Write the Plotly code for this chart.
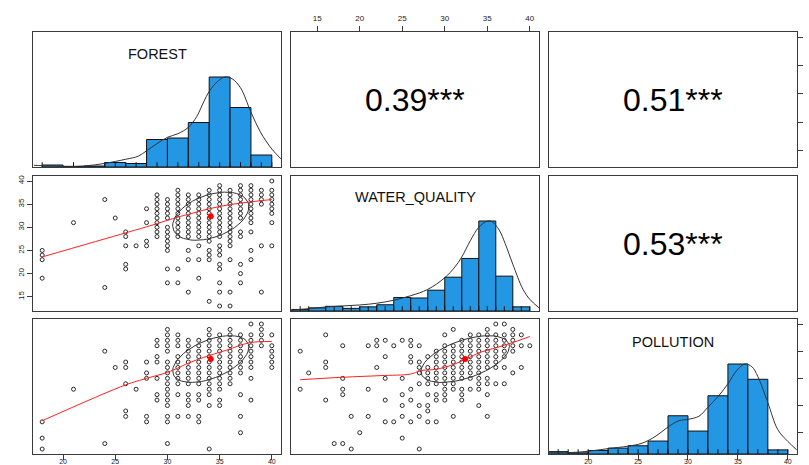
import numpy as np
import plotly.graph_objects as go

# ---------------- data ----------------
var_names = ["FOREST", "WATER_QUALITY", "POLLUTION"]
corr_labels = ["0.39***", "0.51***", "0.53***"]
corr_values = [0.39, 0.51, 0.53]          # forest-wq, forest-pol, wq-pol
tick_vals_forest = [20, 25, 30, 35, 40]
tick_vals_wq = [15, 20, 25, 30, 35, 40]
tick_vals_pol = [20, 25, 30, 35, 40]

forest_lim = [18, 40]
wq_lim = [13, 40]
pol_lim = [17, 40]

# histogram breaks and counts
forest_breaks = [18, 20, 22, 24, 26, 28, 30, 32, 34, 36, 38, 40]
forest_counts = [4, 1, 2, 9, 7, 55, 58, 89, 180, 119, 24]
wq_breaks = [12, 14, 16, 18, 20, 22, 24, 26, 28, 30, 32, 34, 36, 38, 40]
wq_counts = [3, 6, 9, 5, 8, 12, 26, 25, 40, 65, 101, 173, 67, 8]
pol_breaks = [16, 18, 20, 22, 24, 26, 28, 30, 32, 34, 36, 38, 40]
pol_counts = [4, 2, 6, 10, 14, 22, 65, 39, 99, 153, 127, 7]

# density curves (scaled to max 1)
forest_dens_x = [17.2, 18, 20, 22, 24, 26, 27.2, 28, 29, 30, 31, 32, 32.8, 33.5, 34, 34.8, 35.5, 36.2, 37, 38, 38.9, 40, 40.88]
forest_dens_y = [0.019, 0.015, 0.008, 0.011, 0.04, 0.086, 0.12, 0.18, 0.26, 0.33, 0.37, 0.44, 0.56, 0.73, 0.84, 0.95, 1.0, 0.98, 0.88, 0.61, 0.39, 0.2, 0.09]
wq_dens_x = [12, 14, 16, 18, 20, 22, 24, 26, 28, 30, 31.2, 32, 33, 34, 35, 35.6, 36.4, 37.1, 38, 39.2, 40, 41.08]
wq_dens_y = [0.01, 0.026, 0.045, 0.056, 0.067, 0.086, 0.12, 0.17, 0.24, 0.37, 0.49, 0.6, 0.78, 0.93, 1.0, 0.99, 0.9, 0.75, 0.52, 0.24, 0.13, 0.035]
pol_dens_x = [16.1, 18, 20, 22, 24, 25.4, 26.8, 28, 29.1, 30, 31.1, 32, 33.1, 34, 34.9, 35.7, 36.4, 37, 38, 39, 40, 40.9]
pol_dens_y = [0.015, 0.015, 0.03, 0.06, 0.087, 0.12, 0.2, 0.3, 0.37, 0.385, 0.42, 0.52, 0.65, 0.78, 0.93, 1.0, 0.97, 0.86, 0.57, 0.27, 0.14, 0.045]

# scatter points: x value -> list of y values
forest_wq = {
    18: [25, 24, 23, 19], 21: [31], 24: [36, 17], 25: [32],
    26: [29, 28, 26, 22, 21], 27: [26], 28: [34, 31, 27, 26],
    29: [37, 36, 35, 34, 33, 32, 31, 30, 29, 28],
    30: [36, 35, 34, 33, 32, 30, 29, 28, 27, 26, 25, 21, 18],
    31: [38, 37, 36, 35, 34, 33, 32, 31, 30, 29, 28, 21, 18],
    32: [37, 36, 35, 34, 33, 32, 31, 30, 29, 28, 25, 23, 16],
    33: [37, 36, 35, 34, 33, 32, 31, 30, 29, 28, 26, 23, 19],
    34: [38, 37, 36, 35, 34, 33, 32, 31, 30, 29, 28, 27, 25, 24, 23, 14],
    35: [39, 38, 37, 36, 35, 34, 33, 32, 31, 30, 29, 28, 26, 25, 24, 22, 21, 18, 16, 13],
    36: [38, 37, 36, 35, 34, 33, 32, 31, 30, 29, 28, 27, 26, 23, 16, 13],
    37: [39, 38, 37, 36, 35, 34, 33, 32, 29, 28, 22, 20, 18],
    38: [39, 38, 37, 36, 35, 34, 33, 32, 31, 29, 25, 23],
    39: [38, 37, 36, 35, 26, 16],
    40: [40, 38, 37, 36, 35, 34, 33, 31, 26],
}
forest_pol = {
    18: [22, 19, 17], 21: [28], 24: [35, 18], 25: [32],
    26: [33, 32, 29, 24, 23], 27: [28], 28: [33, 31, 30, 23, 22],
    29: [37, 36, 34, 33, 30, 27, 26],
    30: [39, 38, 37, 36, 35, 33, 32, 31, 30, 29, 28, 27, 26, 25, 23, 22, 18],
    31: [38, 37, 36, 34, 33, 32, 31, 30, 29, 27, 23],
    32: [37, 36, 35, 34, 33, 32, 31, 30, 29, 27, 26, 25, 23],
    33: [37, 36, 35, 34, 33, 32, 31, 30, 29, 27, 26, 23, 22],
    34: [39, 38, 37, 36, 35, 34, 33, 32, 31, 30, 29, 28, 27, 25, 17],
    35: [38, 37, 36, 35, 34, 33, 32, 31, 30, 29, 28, 26, 25],
    36: [39, 38, 37, 36, 35, 34, 33, 32, 31, 30, 29],
    37: [38, 37, 36, 35, 34, 33, 32, 31, 27, 23, 20],
    38: [40, 38, 37, 36, 35, 34, 33, 32, 30, 26],
    39: [40, 39, 38, 37, 36],
    40: [38, 36, 35, 34, 33, 32],
}
wq_pol = {
    13: [35, 28], 14: [31], 16: [38, 33, 32, 26], 17: [18],
    18: [36, 30, 28, 27, 18], 19: [23, 17], 20: [20], 21: [36, 28, 23],
    22: [37, 36, 32], 23: [37, 34, 30, 26, 22], 24: [36, 22],
    25: [37, 30, 27, 25, 23, 19], 26: [37, 36, 34, 33, 28, 26, 22],
    27: [36, 33, 32, 31, 29, 25, 23, 17],
    28: [34, 32, 31, 30, 29, 27, 25, 24, 22],
    29: [35, 34, 33, 32, 31, 30, 29, 27, 26, 22],
    30: [38, 36, 35, 34, 33, 32, 31, 30, 29, 28, 27, 26],
    31: [39, 36, 35, 34, 33, 32, 31, 30, 29, 28, 23],
    32: [37, 36, 35, 34, 33, 32, 31, 30, 28, 27, 26],
    33: [38, 37, 36, 35, 34, 33, 32, 31, 30, 28],
    34: [38, 37, 36, 35, 34, 33, 32, 31, 30, 29, 28, 25],
    35: [39, 38, 37, 36, 35, 34, 33, 32, 30, 29, 27, 23],
    36: [40, 38, 37, 36, 35, 34, 33, 32, 29],
    37: [40, 38, 37, 36, 35, 34, 32, 29],
    38: [39, 38, 37, 36, 35, 31],
    39: [38, 36, 32],
    40: [36],
}

# means / sds (for the red dot and correlation ellipse)
means = {"forest": 34.15, "wq": 32.4, "pol": 33.55}
sds = {"forest": 3.65, "wq": 5.2, "pol": 4.3}

# loess smooth lines
fw_loess_x = [18, 26, 28, 30, 31, 32, 34, 36, 38, 40]
fw_loess_y = [23.6, 28.8, 30.1, 31.5, 32.2, 32.8, 34.0, 34.9, 35.5, 36.0]
fp_loess_x = [18, 26, 28, 30, 31, 32, 34, 36, 37, 38, 40]
fp_loess_y = [22.2, 28.8, 30.0, 31.1, 31.9, 32.8, 34.2, 35.4, 36.1, 36.6, 36.8]
wp_loess_x = [13, 18, 22.4, 26, 27.1, 29.1, 31.1, 32.3, 34.2, 36.2, 38.2, 40]
wp_loess_y = [29.75, 30.2, 30.5, 30.8, 31.4, 31.7, 32.6, 33.4, 34.8, 35.7, 36.7, 37.7]

# ---------------- helpers ----------------
W, H = 809, 465
FONT = "Liberation Sans, Arial, sans-serif"
col_px = [(33, 281), (291, 539), (549, 797)]
row_px = [(32, 167), (176, 311), (319, 454)]


def xdom(c):
    return [col_px[c][0] / W, col_px[c][1] / W]


def ydom(r):
    return [1 - row_px[r][1] / H, 1 - row_px[r][0] / H]


def ext(lim):
    d = (lim[1] - lim[0]) * 0.04
    return [lim[0] - d, lim[1] + d]


def flat(d):
    xs, ys = [], []
    for k, v in d.items():
        for y in v:
            xs.append(k)
            ys.append(y)
    return xs, ys


def ellipse(xm, ym, xs, ys, r, seg=51):
    ang = np.arange(seg + 1) * 2 * np.pi / seg
    uc = np.column_stack([np.cos(ang), np.sin(ang)])
    th = np.sign(r) / np.sqrt(2)
    shape = np.diag([np.sqrt(1 + r), np.sqrt(1 - r)]) @ np.array([[th, th], [-th, th]])
    e = uc @ shape
    return e[:, 0] * xs + xm, e[:, 1] * ys + ym


fig = go.Figure()
LINE = "#3a3a3a"


def ax_name(k, kind):
    return kind if k == 1 else f"{kind}{k}"


def add_hist(k, breaks, counts, dx, dy, rug_vals):
    mx = max(counts)
    centers = [(breaks[i] + breaks[i + 1]) / 2 for i in range(len(counts))]
    widths = [breaks[i + 1] - breaks[i] for i in range(len(counts))]
    fig.add_trace(go.Bar(x=centers, y=[c / mx for c in counts], width=widths,
                         marker=dict(color="#2396E4", line=dict(color="#111", width=1)),
                         xaxis=ax_name(k, "x"), yaxis=ax_name(k, "y"), hoverinfo="skip"))
    fig.add_trace(go.Scatter(x=rug_vals, y=[0.022] * len(rug_vals), mode="markers",
                             marker=dict(symbol="line-ns-open", size=4, color="#111",
                                         line=dict(color="#111", width=1)),
                             xaxis=ax_name(k, "x"), yaxis=ax_name(k, "y"), hoverinfo="skip"))
    fig.add_trace(go.Scatter(x=dx, y=dy, mode="lines", line=dict(color="#333", width=1, shape="spline"),
                             xaxis=ax_name(k, "x"), yaxis=ax_name(k, "y"), hoverinfo="skip"))


def add_scatter(k, pts, lx, ly, xm, ym, xs, ys, r):
    px_, py_ = flat(pts)
    fig.add_trace(go.Scatter(x=px_, y=py_, mode="markers",
                             marker=dict(symbol="circle-open", size=4, color="#2a2a2a", line=dict(width=1)),
                             xaxis=ax_name(k, "x"), yaxis=ax_name(k, "y"), hoverinfo="skip"))
    ex, ey = ellipse(xm, ym, xs, ys, r)
    fig.add_trace(go.Scatter(x=ex, y=ey, mode="lines", line=dict(color="#333", width=1),
                             xaxis=ax_name(k, "x"), yaxis=ax_name(k, "y"), hoverinfo="skip"))
    fig.add_trace(go.Scatter(x=lx, y=ly, mode="lines", line=dict(color="#ff2020", width=1, shape="spline"),
                             xaxis=ax_name(k, "x"), yaxis=ax_name(k, "y"), hoverinfo="skip"))
    fig.add_trace(go.Scatter(x=[xm], y=[ym], mode="markers", marker=dict(color="#ff0000", size=6),
                             xaxis=ax_name(k, "x"), yaxis=ax_name(k, "y"), hoverinfo="skip"))


fx, fy = flat(forest_wq)
_, fpy = flat(forest_pol)
wx, wpy = flat(wq_pol)
forest_unique = sorted(set(forest_wq.keys()) | set(forest_pol.keys()))
wq_unique = sorted(set(fy) | set(wq_pol.keys()))
pol_unique = sorted(set(fpy) | set(wpy))

add_hist(1, forest_breaks, forest_counts, forest_dens_x, forest_dens_y, forest_unique)
add_hist(5, wq_breaks, wq_counts, wq_dens_x, wq_dens_y, wq_unique)
add_hist(9, pol_breaks, pol_counts, pol_dens_x, pol_dens_y, pol_unique)

add_scatter(4, forest_wq, fw_loess_x, fw_loess_y, means["forest"], means["wq"], sds["forest"], sds["wq"], corr_values[0])
add_scatter(7, forest_pol, fp_loess_x, fp_loess_y, means["forest"], means["pol"], sds["forest"], sds["pol"], corr_values[1])
add_scatter(8, wq_pol, wp_loess_x, wp_loess_y, means["wq"], means["pol"], sds["wq"], sds["pol"], corr_values[2])

# empty traces so that text-only panels and overlay axis exist
for k in (2, 3, 6):
    fig.add_trace(go.Scatter(x=[None], y=[None], xaxis=ax_name(k, "x"), yaxis=ax_name(k, "y"), hoverinfo="skip"))
fig.add_trace(go.Scatter(x=[None], y=[None], xaxis="x9", yaxis="y10", hoverinfo="skip"))

col_lims = [ext(forest_lim), ext(wq_lim), ext(pol_lim)]
layout = {}
base = dict(showline=True, mirror=True, linecolor=LINE, linewidth=1, showgrid=False, zeroline=False,
            ticks="", showticklabels=False, fixedrange=True,
            tickfont=dict(family=FONT, size=8, color="#222"), ticklen=5, tickwidth=1, tickcolor=LINE)
for r in range(3):
    for c in range(3):
        k = r * 3 + c + 1
        xa = dict(base, domain=xdom(c), anchor=ax_name(k, "y"), range=col_lims[c])
        if r == c:
            ya = dict(base, domain=ydom(r), anchor=ax_name(k, "x"), range=[0, 1.5])
        else:
            ya = dict(base, domain=ydom(r), anchor=ax_name(k, "x"), range=col_lims[r])
        layout["xaxis" if k == 1 else f"xaxis{k}"] = xa
        layout["yaxis" if k == 1 else f"yaxis{k}"] = ya

# outer axes like R pairs
bottom_font = dict(family=FONT, size=7, color="#222")
layout["xaxis2"].update(side="top", ticks="outside", showticklabels=True, tickvals=tick_vals_wq,
                        ticklabelstandoff=2)
layout["xaxis7"].update(ticks="outside", showticklabels=True, tickvals=tick_vals_forest,
                        tickfont=bottom_font, ticklabelstandoff=-4)
layout["xaxis9"].update(ticks="outside", showticklabels=True, tickvals=tick_vals_pol,
                        tickfont=bottom_font, ticklabelstandoff=-4)
layout["yaxis4"].update(ticks="outside", showticklabels=True, tickvals=tick_vals_wq, tickangle=-90)
layout["yaxis3"].update(side="right", ticks="outside", tickvals=tick_vals_forest)
layout["yaxis10"] = dict(overlaying="y9", anchor="x9", side="right", range=ext(pol_lim), showline=False,
                         showgrid=False, zeroline=False, ticks="outside", ticklen=5, tickwidth=1,
                         tickcolor=LINE, tickvals=tick_vals_pol, showticklabels=False, fixedrange=True)

annotations = []
for k, lab in zip((2, 3, 6), corr_labels):
    annotations.append(dict(text=lab, xref=f"x{k} domain", yref=f"y{k} domain", x=0.5, y=0.5,
                            xanchor="center", yanchor="middle",
                            showarrow=False, font=dict(family=FONT, size=32, color="#000")))
name_pos = [(1, 0.835), (5, 0.845), (9, 0.83)]
for (k, yy), nm in zip(name_pos, var_names):
    xr = "x domain" if k == 1 else f"x{k} domain"
    yr = "y domain" if k == 1 else f"y{k} domain"
    annotations.append(dict(text=nm, xref=xr, yref=yr, x=0.5, y=yy, xanchor="center", yanchor="middle",
                            showarrow=False, font=dict(family=FONT, size=14.5, color="#111")))

fig.update_layout(**layout)
fig.update_layout(width=W, height=H, autosize=False, margin=dict(l=0, r=0, t=0, b=0),
                  paper_bgcolor="white", plot_bgcolor="white", showlegend=False,
                  annotations=annotations, bargap=0, font=dict(family=FONT))

post = ("document.documentElement.style.overflow='hidden';"
        "document.body.style.margin='0';document.body.style.overflow='hidden';"
        "document.body.style.height='465px';"
        "var gd=document.getElementById('{plot_id}');"
        "gd.style.overflow='hidden';"
        "var sc=gd.querySelector('.svg-container');if(sc){sc.style.overflow='hidden';}")
fig.write_html("out.html", config={"displayModeBar": False, "staticPlot": True}, post_script=post)
